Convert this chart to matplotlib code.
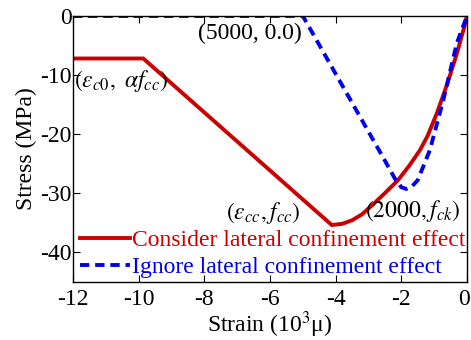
import matplotlib
matplotlib.use("Agg")
import matplotlib.pyplot as plt
import matplotlib.transforms as mtransforms

plt.rcParams['font.family'] = ['Liberation Serif', 'DejaVu Serif']
plt.rcParams['mathtext.fontset'] = 'stix'
plt.rcParams['axes.unicode_minus'] = False

# Data (strain in 10^3 micro, stress in MPa)
red_strain = [-12.0, -9.86, -4.12, -3.8, -3.5, -3.2, -2.86, -2.5, -2.1, -1.75, -1.43, -1.2,
              -0.92, -0.6, -0.3, -0.1, 0.0]
red_stress = [-7.2, -7.2, -35.4, -35.2, -34.6, -33.6, -31.9, -30.0, -27.8, -25.3, -22.7, -20.3,
              -16.5, -11.5, -6.2, -2.2, 0.0]

blue_strain = [-12.0, -5.0, -4.0, -3.0, -2.5, -2.2, -2.0, -1.85, -1.7, -1.5, -1.13, -0.72, -0.31, 0.0]
blue_stress = [0.0, 0.0, -9.8, -19.6, -24.5, -27.5, -29.0, -29.3, -29.0, -27.8, -22.7, -14.2, -4.6, 0.0]

xticks = [-12, -10, -8, -6, -4, -2, 0]
yticks = [0, -10, -20, -30, -40]

red = '#cc0000'
blue = '#0000ee'
fs = 17

fig = plt.figure(figsize=(4.71, 3.40), dpi=100)
ax = fig.add_axes([0.155, 0.1715, 0.8365, 0.7815])

ax.plot(red_strain, red_stress, color=red, lw=2.8, solid_joinstyle='miter',
        label='Consider lateral confinement effect')
ax.plot(blue_strain, blue_stress, color=blue, lw=2.8, linestyle=(0, (2.4, 1.5)),
        label='Ignore lateral confinement effect')

ax.set_xlim(-12, 0)
ax.set_ylim(-45, 0)
ax.set_xticks(xticks)
ax.set_yticks(yticks)
ax.tick_params(direction='in', top=True, right=True, labelsize=fs, length=5, width=0.8)
ax.tick_params(axis='y', pad=1)
ax.tick_params(axis='x', pad=5)
for s in ax.spines.values():
    s.set_linewidth(1.0)

# nudge the last x tick label so it stays inside the canvas
last = ax.get_xticklabels()[-1]
last.set_transform(last.get_transform() + mtransforms.ScaledTranslation(-3 / 100, 0, fig.dpi_scale_trans))

ax.set_xlabel(r'Strain (10$^3$μ)', fontsize=fs, labelpad=0)
ax.set_ylabel('Stress (MPa)', fontsize=fs, labelpad=2)

ax.text(-6.6, -2.9, '(5000, 0.0)', fontsize=fs, ha='center', va='center')
ax.text(-11.97, -11.0, r'$(\varepsilon_{c0},\ \alpha f_{cc})$', fontsize=fs, ha='left', va='center')
ax.text(-6.2, -33.4, r'$(\varepsilon_{cc},f_{cc})$', fontsize=fs, ha='center', va='center')
ax.text(-1.64, -33.0, r'$(2000,f_{ck})$', fontsize=fs, ha='center', va='center')

leg = ax.legend(loc='lower left', bbox_to_anchor=(-0.018, -0.04), frameon=False, fontsize=fs,
                handlelength=2.1, handletextpad=0.1, labelspacing=0.22, borderaxespad=0.2)
for t, c in zip(leg.get_texts(), [red, blue]):
    t.set_color(c)

fig.savefig('out.png', dpi=100)
